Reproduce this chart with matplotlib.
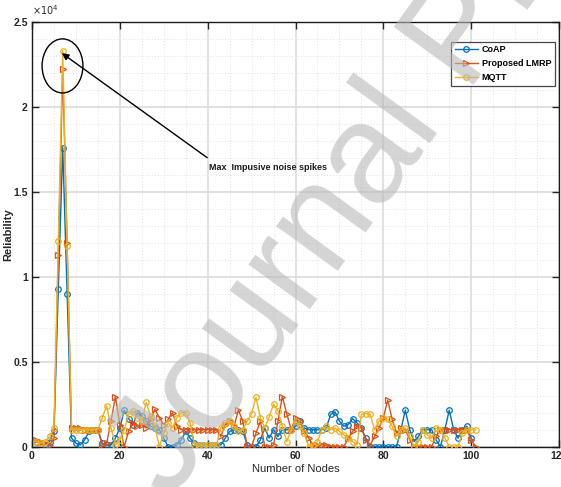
import matplotlib
matplotlib.use("Agg")
import matplotlib.pyplot as plt
from matplotlib.patches import Ellipse
from matplotlib.ticker import MultipleLocator, FuncFormatter

plt.rcParams['font.family'] = ['Liberation Sans', 'DejaVu Sans']

# Reliability per node for each protocol
nodes_coap = list(range(1, 101))
coap = [300, 200, 100, 300, 900, 9300, 17600, 9000, 500, 200,
        100, 400, 900, 1000, 1000, 200, 100, 100, 500, 1100,
        2150, 1650, 1300, 2000, 1800, 1500, 1200, 1100, 1000, 500,
        0, 0, 100, 400, 900, 500, 200, 100, 100, 100,
        100, 100, 100, 500, 900, 1000, 1000, 900, 100, 0,
        0, 400, 1100, 500, 1000, 600, 1000, 1000, 1000, 1200,
        1500, 1100, 1000, 1000, 1000, 1000, 1100, 1900, 2050, 1500,
        1200, 1300, 1650, 1400, 1100, 500, 0, 0, 0, 0,
        0, 0, 0, 1000, 2150, 1000, 300, 600, 1000, 1000,
        1000, 400, 0, 1000, 2150, 1000, 500, 1000, 1200, 500]

nodes_lmrp = list(range(1, 102))
lmrp = [400, 300, 200, 100, 500, 11300, 22200, 12000, 1100, 1100,
        1100, 1000, 1000, 1000, 1000, 100, 200, 1500, 2950, 1300,
        0, 900, 1400, 1200, 1300, 1100, 1600, 2200, 1700, 1300,
        1600, 2000, 1200, 1000, 1000, 1000, 1000, 1000, 1000, 1000,
        1000, 1000, 600, 1300, 1500, 1200, 2150, 1500, 0, 0,
        800, 1500, 0, 0, 100, 1500, 2950, 1950, 1000, 1700,
        1500, 900, 500, 100, 100, 100, 100, 0, 0, 0,
        0, 500, 900, 1200, 1100, 400, 100, 600, 1080, 1700,
        2750, 1600, 800, 1100, 1000, 400, 0, 0, 0, 0,
        0, 600, 1000, 1000, 1000, 1000, 1000, 1000, 1000, 400,
        0]

nodes_mqtt = list(range(1, 102))
mqtt = [300, 200, 300, 600, 1100, 12100, 23300, 11800, 1000, 1000,
        1000, 1000, 1000, 1000, 1000, 1700, 2400, 1100, 100, 400,
        1000, 1900, 2100, 1700, 1500, 2600, 1800, 1200, 0, 800,
        1400, 1100, 1700, 2000, 2000, 1400, 100, 100, 100, 100,
        100, 100, 1100, 1400, 1500, 1200, 900, 1000, 1500, 1950,
        2900, 1700, 1100, 1750, 2500, 2100, 1200, 300, 1000, 1500,
        1200, 800, 0, 100, 300, 1000, 1200, 1000, 1100, 900,
        700, 500, 300, 100, 1900, 1950, 1900, 1000, 1500, 1700,
        1600, 1200, 600, 1000, 1100, 600, 0, 300, 1000, 700,
        500, 1100, 1000, 500, 0, 0, 0, 800, 1000, 1000,
        1000]

labels = ['CoAP', 'Proposed LMRP', 'MQTT']
colors = ['#0072BD', '#D95319', '#EDB120']

fig = plt.figure(figsize=(5.61, 4.87), dpi=100)
ax = fig.add_axes([0.057, 0.0828, 0.9395, 0.8726])

ax.plot(nodes_coap, coap, '-o', color=colors[0], lw=1.0, ms=4,
        mfc='none', mew=0.9, label=labels[0], zorder=3)
ax.plot(nodes_lmrp, lmrp, '->', color=colors[1], lw=1.0, ms=4.5,
        mfc='none', mew=0.9, label=labels[1], zorder=3)
ax.plot(nodes_mqtt, mqtt, '-o', color=colors[2], lw=1.0, ms=4,
        mfc='none', mew=0.9, label=labels[2], zorder=3)

ax.set_xlim(0, 120)
ax.set_ylim(0, 25000)
ax.xaxis.set_major_locator(MultipleLocator(20))
ax.xaxis.set_minor_locator(MultipleLocator(5))
ax.yaxis.set_major_locator(MultipleLocator(5000))
ax.yaxis.set_minor_locator(MultipleLocator(1000))
ax.yaxis.set_major_formatter(FuncFormatter(lambda v, p: f"{v/1e4:g}"))

ax.grid(which='major', color='#dcdcdc', lw=1.2, ls='-', zorder=0)
ax.grid(which='minor', color='#e2e2e2', lw=0.7, ls=(0, (1, 2)), zorder=0)
ax.set_axisbelow(True)

ax.tick_params(which='major', direction='in', length=5, width=1,
               top=True, right=True, labelsize=7.5, colors='#262626',
               pad=3)
ax.tick_params(which='minor', length=0, top=True, right=True)
for lab in ax.get_xticklabels() + ax.get_yticklabels():
    lab.set_fontweight('bold')
for sp in ax.spines.values():
    sp.set_linewidth(1.0)
    sp.set_color('#1a1a1a')

ax.text(0.0, 1.012, r'$\times10^4$', transform=ax.transAxes, fontsize=7,
        color='#262626', ha='left', va='bottom')

ax.set_xlabel('Number of Nodes', fontsize=8, labelpad=2, color='#262626')
ax.set_ylabel('Reliability', fontsize=8, fontweight='bold',
              color='#262626')
ax.yaxis.set_label_coords(-0.035, 0.5)

# highlight of the impulsive spike
ax.add_patch(Ellipse((6.95, 22400), 9.3, 3180, fill=False, ec='black',
                     lw=1.0, zorder=4))
ax.annotate('', xy=(6.8, 23150), xytext=(39.9, 17000),
            arrowprops=dict(arrowstyle='-|>', color='black', lw=1.0,
                            mutation_scale=10, shrinkA=0, shrinkB=0),
            zorder=5)
ax.text(40.3, 16400, 'Max  Impusive noise spikes', fontsize=6.5,
        fontweight='bold', ha='left', va='center', color='#1a1a1a')

leg = ax.legend(loc='upper right', bbox_to_anchor=(0.992, 0.953),
                fontsize=6.5, frameon=True, fancybox=False,
                edgecolor='#1a1a1a', handlelength=2.6, borderpad=0.4,
                labelspacing=0.55, handletextpad=0.4, borderaxespad=0)
leg.get_frame().set_linewidth(0.9)
for t in leg.get_texts():
    t.set_fontweight('bold')

# diagonal watermark
fig.text(0.305, -0.03, 'Journal Pre-proof', fontsize=102, color='#b8b8b8',
         alpha=0.6, rotation=54, rotation_mode='anchor', ha='left',
         va='baseline', zorder=10)

fig.savefig('out.png', dpi=100)
